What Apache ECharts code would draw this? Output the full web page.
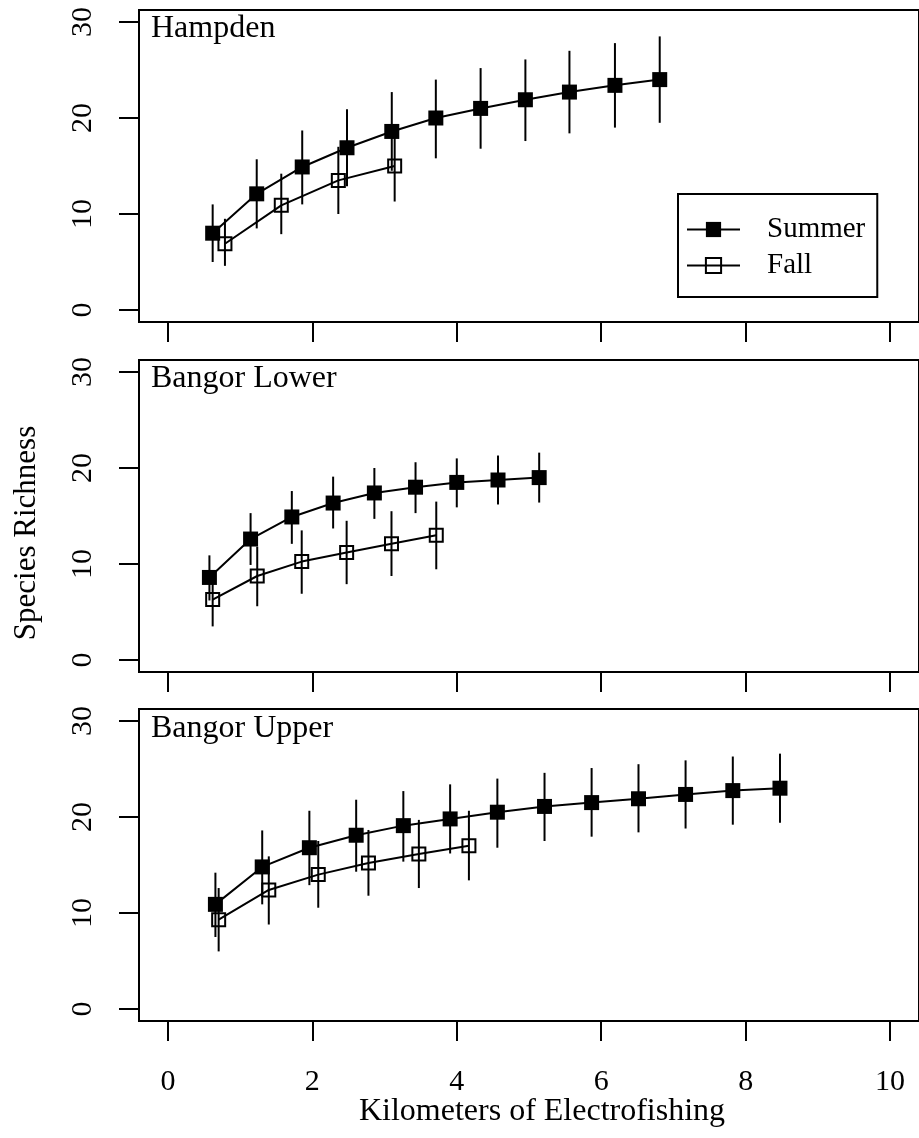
<!DOCTYPE html>
<html>
<head>
<meta charset="utf-8">
<title>Species richness vs electrofishing distance</title>
<script src="https://cdn.jsdelivr.net/npm/echarts@6/dist/echarts.min.js"></script>
<style>
  html, body { margin: 0; padding: 0; background: #fff; }
  #chart { width: 919px; height: 1138px; }
</style>
</head>
<body>
<div id="chart"></div>
<script>
// tick values
var kmTicks = [0, 2, 4, 6, 8, 10];
var richTicks = [0, 10, 20, 30];

// panel names
var panelNames = ['Hampden', 'Bangor Lower', 'Bangor Upper'];

// Hampden
var hampdenSummerKm  = [0.62, 1.23, 1.86, 2.48, 3.10, 3.71, 4.33, 4.95, 5.56, 6.19, 6.81];
var hampdenSummerRich = [8.0, 12.1, 14.9, 16.9, 18.6, 20.0, 21.0, 21.9, 22.7, 23.4, 24.0];
var hampdenSummerLo  = [5.0, 8.5, 11.0, 12.9, 14.5, 15.8, 16.8, 17.6, 18.4, 19.0, 19.5];
var hampdenSummerHi  = [11.0, 15.7, 18.7, 20.9, 22.7, 24.0, 25.2, 26.1, 27.0, 27.8, 28.5];
var hampdenFallKm    = [0.79, 1.57, 2.36, 3.14];
var hampdenFallRich  = [6.9, 10.9, 13.5, 15.0];
var hampdenFallLo    = [4.6, 7.9, 10.0, 11.3];
var hampdenFallHi    = [9.5, 14.2, 17.0, 18.7];

// Bangor Lower
var lowerSummerKm   = [0.575, 1.145, 1.716, 2.288, 2.859, 3.429, 4.0, 4.571, 5.141];
var lowerSummerRich = [8.6, 12.6, 14.9, 16.35, 17.4, 18.0, 18.5, 18.75, 19.0];
var lowerSummerLo   = [6.2, 9.9, 12.1, 13.7, 14.7, 15.3, 15.9, 16.2, 16.4];
var lowerSummerHi   = [10.9, 15.3, 17.6, 19.1, 20.0, 20.6, 21.0, 21.3, 21.6];
var lowerFallKm     = [0.62, 1.237, 1.853, 2.475, 3.096, 3.716];
var lowerFallRich   = [6.3, 8.75, 10.25, 11.2, 12.1, 13.0];
var lowerFallLo     = [3.5, 5.6, 6.9, 7.9, 8.75, 9.45];
var lowerFallHi     = [9.1, 11.8, 13.5, 14.5, 15.5, 16.5];

// Bangor Upper
var upperSummerKm   = [0.658, 1.306, 1.959, 2.607, 3.26, 3.908, 4.562, 5.215, 5.867, 6.516, 7.168, 7.822, 8.475];
var upperSummerRich = [10.9, 14.8, 16.8, 18.1, 19.1, 19.8, 20.5, 21.1, 21.5, 21.9, 22.35, 22.75, 23.0];
var upperSummerLo   = [7.5, 10.9, 12.9, 14.3, 15.35, 16.2, 16.8, 17.5, 17.95, 18.4, 18.8, 19.2, 19.4];
var upperSummerHi   = [14.2, 18.6, 20.65, 21.8, 22.7, 23.4, 24.0, 24.6, 25.1, 25.5, 25.9, 26.3, 26.6];
var upperFallKm     = [0.703, 1.397, 2.082, 2.777, 3.475, 4.168];
var upperFallRich   = [9.3, 12.4, 14.0, 15.2, 16.15, 17.0];
var upperFallLo     = [6.0, 8.8, 10.55, 11.8, 12.6, 13.4];
var upperFallHi     = [12.6, 15.9, 17.5, 18.65, 19.7, 20.65];

var FONT = '"Liberation Serif", "Times New Roman", serif';

var panels = [
  { sKm: hampdenSummerKm, sY: hampdenSummerRich, sLo: hampdenSummerLo, sHi: hampdenSummerHi,
    fKm: hampdenFallKm, fY: hampdenFallRich, fLo: hampdenFallLo, fHi: hampdenFallHi },
  { sKm: lowerSummerKm, sY: lowerSummerRich, sLo: lowerSummerLo, sHi: lowerSummerHi,
    fKm: lowerFallKm, fY: lowerFallRich, fLo: lowerFallLo, fHi: lowerFallHi },
  { sKm: upperSummerKm, sY: upperSummerRich, sLo: upperSummerLo, sHi: upperSummerHi,
    fKm: upperFallKm, fY: upperFallRich, fLo: upperFallLo, fHi: upperFallHi }
];

var tops = [10, 360, 709];

function pairs(xs, ys) {
  return xs.map(function (x, i) { return [x, ys[i]]; });
}

// vertical error bar drawn through the axes
function errBars(name, idx, xs, lo, hi) {
  return {
    name: name,
    type: 'custom',
    xAxisIndex: idx,
    yAxisIndex: idx,
    z: 2,
    data: xs.map(function (x, i) { return [x, lo[i], hi[i]]; }),
    encode: { x: 0, y: [1, 2] },
    renderItem: function (params, api) {
      var a = api.coord([api.value(0), api.value(1)]);
      var b = api.coord([api.value(0), api.value(2)]);
      return {
        type: 'line',
        shape: { x1: a[0], y1: a[1], x2: b[0], y2: b[1] },
        style: { stroke: '#000', lineWidth: 2 }
      };
    }
  };
}

var grids = [], xAxes = [], yAxes = [], series = [];

panels.forEach(function (p, i) {
  grids.push({
    left: 139, right: -8, top: tops[i], height: 312,
    show: true, borderColor: '#000', borderWidth: 2, backgroundColor: 'transparent'
  });
  xAxes.push({
    gridIndex: i, type: 'value', min: -0.4, max: 10.4,
    axisLine: { show: false, onZero: false },
    splitLine: { show: false },
    axisTick: { show: true, inside: false, length: 20, customValues: kmTicks,
                lineStyle: { color: '#000', width: 2 } },
    axisLabel: { show: i === 2, customValues: kmTicks, margin: 46,
                 fontFamily: FONT, fontSize: 30, color: '#000' }
  });
  yAxes.push({
    gridIndex: i, type: 'value', min: -1.25, max: 31.25,
    axisLine: { show: false, onZero: false },
    splitLine: { show: false },
    axisTick: { show: true, inside: false, length: 20, customValues: richTicks,
                lineStyle: { color: '#000', width: 2 } },
    axisLabel: { show: true, customValues: richTicks, rotate: 90, margin: 41,
                 fontFamily: FONT, fontSize: 30, color: '#000' }
  });

  series.push(errBars('Summer SD', i, p.sKm, p.sLo, p.sHi));
  series.push(errBars('Fall SD', i, p.fKm, p.fLo, p.fHi));
  series.push({
    name: 'Summer', type: 'line', xAxisIndex: i, yAxisIndex: i, z: 3,
    data: pairs(p.sKm, p.sY),
    symbol: 'rect', symbolSize: 15,
    itemStyle: { color: '#000' },
    lineStyle: { color: '#000', width: 2 }
  });
  series.push({
    name: 'Fall', type: 'line', xAxisIndex: i, yAxisIndex: i, z: 3,
    data: pairs(p.fKm, p.fY),
    symbol: 'rect', symbolSize: 13,
    itemStyle: { color: 'none', borderColor: '#000', borderWidth: 2 },
    lineStyle: { color: '#000', width: 2 }
  });
});

var labelY = [29, 379, 729];
var graphics = panelNames.map(function (n, i) {
  return {
    type: 'text', x: 151, y: labelY[i],
    style: { text: n, fontFamily: FONT, fontSize: 32, fill: '#000',
             align: 'left', verticalAlign: 'middle' }
  };
});
graphics.push({
  type: 'text', x: 27, y: 533, rotation: Math.PI / 2,
  style: { text: 'Species Richness', fontFamily: FONT, fontSize: 31, fill: '#000',
           align: 'center', verticalAlign: 'middle' }
});
graphics.push({
  type: 'text', x: 542, y: 1112,
  style: { text: 'Kilometers of Electrofishing', fontFamily: FONT, fontSize: 32, fill: '#000',
           align: 'center', verticalAlign: 'middle' }
});

var chart = echarts.init(document.getElementById('chart'));
chart.setOption({
  animation: false,
  backgroundColor: '#fff',
  grid: grids,
  xAxis: xAxes,
  yAxis: yAxes,
  legend: {
    data: ['Summer', 'Fall'],
    orient: 'vertical',
    left: 678, top: 194,
    itemWidth: 53, itemHeight: 19, itemGap: 7,
    padding: [21, 12, 17, 8],
    borderColor: '#000', borderWidth: 2,
    selectedMode: false,
    textStyle: { fontFamily: FONT, fontSize: 29, color: '#000', padding: [0, 0, 0, 22] }
  },
  graphic: graphics,
  series: series
});
</script>
</body>
</html>
